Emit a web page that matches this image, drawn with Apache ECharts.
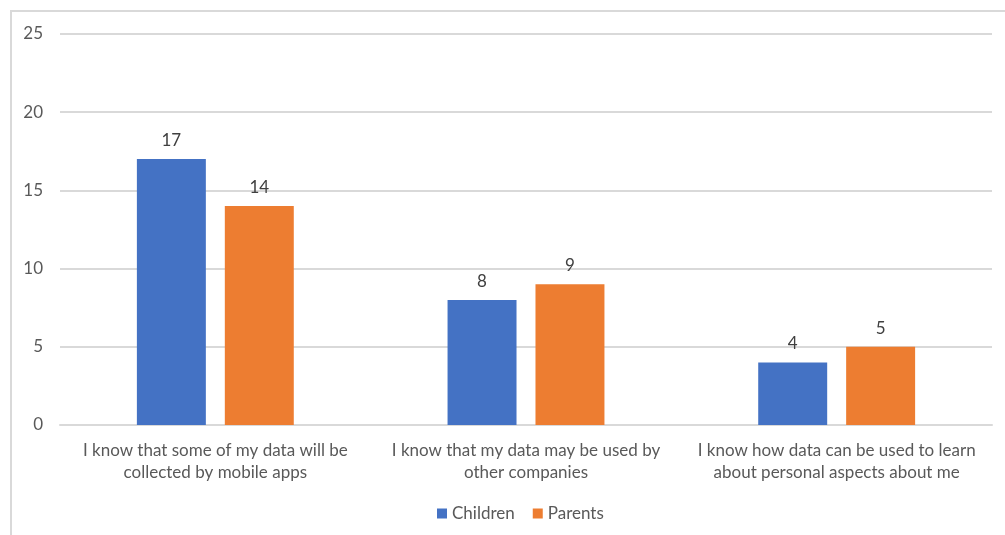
<!DOCTYPE html>
<html>
<head>
<meta charset="utf-8">
<script src="https://cdn.jsdelivr.net/npm/echarts@6/dist/echarts.min.js"></script>
<style>
  html, body { margin: 0; padding: 0; background: #fff; }
  #frame { position: absolute; left: 10px; top: 10px; width: 1100px; height: 600px; border: 2px solid #d9d9d9; box-sizing: border-box; }
  #chart { position: absolute; left: 0; top: 0; width: 1005px; height: 535px; }
</style>
</head>
<body>
<div id="frame"></div>
<div id="chart"></div>
<script>
const categories = [
  "I know that some of my data will be\ncollected by mobile apps",
  "I know that my data may be used by\nother companies",
  "I know how data can be used to learn\nabout personal aspects about me"
];
const seriesNames = ["Children", "Parents"];
const children = [17, 8, 4];
const parents = [14, 9, 5];
const yTicks = { min: 0, max: 25, interval: 5 };

const chart = echarts.init(document.getElementById('chart'), null, { renderer: 'canvas' });
const font = 'Lato, "Open Sans", sans-serif';
const labelStyle = { show: true, position: 'top', distance: 10, color: '#404040', fontSize: 17, fontFamily: font };
chart.setOption({
  animation: false,
  backgroundColor: 'transparent',
  grid: { left: 60, right: 13, top: 34, bottom: 110, containLabel: false },
  legend: {
    data: seriesNames,
    bottom: 8,
    left: 432,
    itemWidth: 10, itemHeight: 10, itemGap: 18,
    icon: 'rect',
    textStyle: { color: '#595959', fontSize: 17, fontFamily: font }
  },
  xAxis: {
    type: 'category',
    data: categories,
    axisLine: { show: true, lineStyle: { color: '#d9d9d9', width: 2 } },
    axisTick: { show: false },
    axisLabel: { color: '#595959', fontSize: 17, fontFamily: font, margin: 15, lineHeight: 22, interval: 0 }
  },
  yAxis: {
    type: 'value',
    min: yTicks.min, max: yTicks.max, interval: yTicks.interval,
    axisLine: { show: false },
    axisTick: { show: false },
    splitLine: { lineStyle: { color: '#d9d9d9', width: 2 } },
    axisLabel: { color: '#595959', fontSize: 17, fontFamily: font, margin: 17 }
  },
  series: [
    { name: seriesNames[0], type: 'bar', data: children, barWidth: '22.2%', barGap: '27.5%',
      itemStyle: { color: '#4472c4' }, label: labelStyle },
    { name: seriesNames[1], type: 'bar', data: parents, barWidth: '22.2%',
      itemStyle: { color: '#ed7d31' }, label: labelStyle }
  ]
});
</script>
</body>
</html>
